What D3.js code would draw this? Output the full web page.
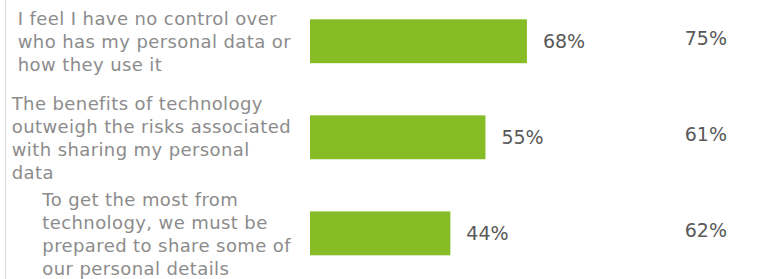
<!DOCTYPE html>
<html>
<head>
<meta charset="utf-8">
<script src="https://cdn.jsdelivr.net/npm/d3@7"></script>
<style>
  body { margin: 0; background: #fff; }
  svg { display: block; font-family: Verdana, "DejaVu Sans", sans-serif; }
  .label { fill: #8c8c8c; font-size: 18px; letter-spacing: 0.4px; }
  .value { fill: #595959; font-size: 19px; }
</style>
</head>
<body>
<div class="chart"></div>
<script>
// statements (each already split into lines like the original)
var statements = [
  ["I feel I have no control over", "who has my personal data or", "how they use it"],
  ["The benefits of technology", "outweigh the risks associated", "with sharing my personal", "data"],
  ["To get the most from", "technology, we must be", "prepared to share some of", "our personal details"]
];
var ukValues = [68, 55, 44];
var globalValues = [75, 61, 62];

var w = 764, h = 279;

var svg = d3.select("div.chart")
            .append("svg")
            .attr("width", w)
            .attr("height", h);

var rows = d3.range(statements.length);

// x: 0-100% across the bar area
var x = d3.scaleLinear()
          .domain([0, 100])
          .range([310, 629]);

var y = d3.scaleBand()
          .domain(rows)
          .range([19.3, 255.3])
          .paddingInner(0.543)
          .paddingOuter(0);

//faint left border
svg.append("line")
   .attr("x1", 5.5).attr("x2", 5.5)
   .attr("y1", 0).attr("y2", h)
   .attr("stroke", "#d9d9d9")
   .attr("stroke-width", 1);

//bars
svg.append("g")
   .selectAll("rect")
   .data(rows)
   .enter()
   .append("rect")
     .attr("x", x(0))
     .attr("y", d => y(d))
     .attr("width", d => x(ukValues[d]) - x(0))
     .attr("height", y.bandwidth())
     .attr("fill", "#86bc25");

//bar values
svg.append("g")
   .selectAll("text")
   .data(rows)
   .enter()
   .append("text")
     .attr("class", "value")
     .attr("x", d => x(ukValues[d]) + 16)
     .attr("y", d => y(d) + y.bandwidth() / 2 + 7)
     .text(d => ukValues[d] + "%");

//comparison column
svg.append("g")
   .selectAll("text")
   .data(rows)
   .enter()
   .append("text")
     .attr("class", "value")
     .attr("text-anchor", "end")
     .attr("x", 727)
     .attr("y", d => y(d) + y.bandwidth() / 2 + 4)
     .text(d => globalValues[d] + "%");

//statement labels, lines left aligned, block right aligned
var lineH = 23;
var labels = svg.append("g")
   .selectAll("text")
   .data(rows)
   .enter()
   .append("text")
     .attr("class", "label");

labels.each(function(d){
  var t = d3.select(this);
  var lines = statements[d];
  var cy = y(d) + y.bandwidth() / 2 + 6.7;
  lines.forEach(function(line, i){
    t.append("tspan")
     .attr("y", cy + (i - (lines.length - 1) / 2) * lineH)
     .text(line);
  });
  var maxW = d3.max(t.selectAll("tspan").nodes(), n => n.getComputedTextLength());
  t.selectAll("tspan").attr("x", 291 - maxW);
});
</script>
</body>
</html>
